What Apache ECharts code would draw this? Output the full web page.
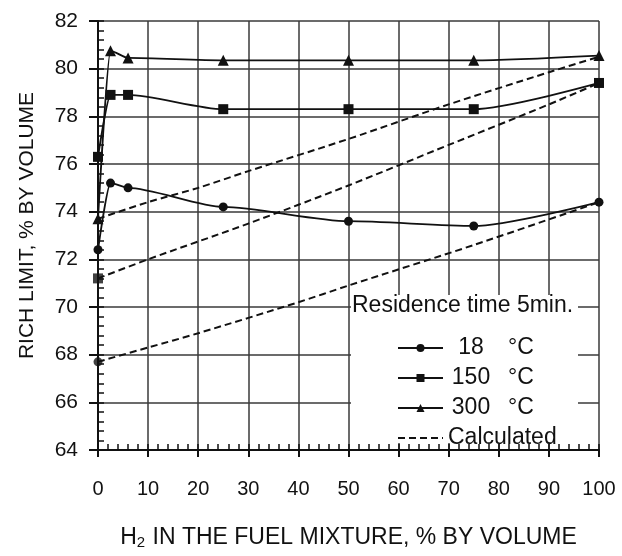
<!DOCTYPE html>
<html>
<head>
<meta charset="utf-8">
<script src="https://cdn.jsdelivr.net/npm/echarts@6/dist/echarts.min.js"></script>
<style>html,body{margin:0;padding:0;background:#fff;}#c{width:622px;height:556px;}</style>
</head>
<body>
<div id="c"></div>
<script>
// ---- data ----
const xExp = [0, 2.5, 6, 25, 50, 75, 100];
const y18 = [72.4, 75.2, 75.0, 74.2, 73.6, 73.4, 74.4];
const y150 = [76.3, 78.9, 78.9, 78.3, 78.3, 78.3, 79.4];
const y300 = [73.7, 80.75, 80.45, 80.35, 80.35, 80.35, 80.55];

const xCalc300 = [0, 10, 20, 30, 50, 70, 90, 100];
const yCalc300 = [73.7, 74.4, 75.0, 75.7, 77.05, 78.5, 79.85, 80.5];
const xCalc150 = [0, 10, 30, 50, 70, 90, 100];
const yCalc150 = [71.2, 72.0, 73.5, 75.1, 76.8, 78.5, 79.4];
const xCalc18 = [0, 10, 20, 40, 50, 75, 100];
const yCalc18 = [67.7, 68.3, 68.9, 70.2, 70.9, 72.6, 74.4];

// start points of the calculated curves, drawn with markers
const calcStart150 = [[0, 71.2]];
const calcStart18 = [[0, 67.7]];

const seriesNames = ['18 °C', '150 °C', '300 °C', 'Calculated'];
const xTicks = {min: 0, max: 100, step: 10};
const yTicks = {min: 64, max: 82, step: 2};

const FONT = "'Liberation Sans', Arial, sans-serif";
const INK = '#111';

function pairs(xs, ys) { return xs.map((x, i) => [x, ys[i]]); }

const chart = echarts.init(document.getElementById('c'), null, {renderer: 'canvas'});

const calcStyle = {color: INK, width: 2, type: [7, 4]};

const option = {
  backgroundColor: '#fff',
  animation: false,
  grid: {left: 98, top: 21, width: 501, height: 429, containLabel: false},
  xAxis: [{
    type: 'value', position: 'bottom',
    min: xTicks.min, max: xTicks.max, interval: xTicks.step,
    axisLine: {show: true, lineStyle: {color: INK, width: 2}},
    axisTick: {show: true, inside: false, length: 7, lineStyle: {color: INK, width: 2}},
    axisLabel: {color: INK, fontSize: 20, fontFamily: FONT, margin: 29},
    splitLine: {show: true, lineStyle: {color: '#3a3a3a', width: 1.5}},
    name: '{a|H}{s|2}{a| IN THE FUEL MIXTURE, % BY VOLUME}',
    nameLocation: 'middle', nameGap: 75,
    nameTextStyle: {color: INK, fontFamily: FONT, fontSize: 23,
      rich: {a: {fontSize: 23, fontFamily: FONT, color: INK},
             s: {fontSize: 15, fontFamily: FONT, color: INK, verticalAlign: 'bottom', padding: [10, 1, 0, 0]}}}
  }, {
    type: 'value', position: 'bottom',
    min: xTicks.min, max: xTicks.max, interval: 2,
    axisLine: {show: false},
    axisTick: {show: true, inside: true, length: 6, lineStyle: {color: INK, width: 1.5}},
    axisLabel: {show: false}, splitLine: {show: false}
  }],
  yAxis: [{
    type: 'value', position: 'left',
    min: yTicks.min, max: yTicks.max, interval: yTicks.step,
    axisLine: {show: true, lineStyle: {color: INK, width: 2}},
    axisTick: {show: true, inside: false, length: 9, lineStyle: {color: INK, width: 2}},
    axisLabel: {color: INK, fontSize: 21, fontFamily: FONT, margin: 20},
    splitLine: {show: true, lineStyle: {color: '#3a3a3a', width: 1.5}},
    name: 'RICH LIMIT, % BY VOLUME',
    nameLocation: 'middle', nameGap: 60, nameRotate: 90,
    nameTextStyle: {color: INK, fontFamily: FONT, fontSize: 21, padding: [0, 0, 0, 20]}
  }, {
    type: 'value', position: 'left',
    min: yTicks.min, max: yTicks.max, interval: 0.4,
    axisLine: {show: false},
    axisTick: {show: true, inside: true, length: 6, lineStyle: {color: INK, width: 1.5}},
    axisLabel: {show: false}, splitLine: {show: false}
  }],
  legend: {
    orient: 'vertical', left: 392, top: 331,
    itemWidth: 45, itemHeight: 10, itemGap: 6,
    data: [
      seriesNames[0], seriesNames[1], seriesNames[2],
      {name: seriesNames[3], itemStyle: {color: 'rgba(0,0,0,0)', borderColor: 'rgba(0,0,0,0)', borderWidth: 0}}
    ],
    textStyle: {color: INK, fontFamily: FONT, fontSize: 23, lineHeight: 24,
      rich: {n: {width: 46, align: 'right', fontSize: 23, fontFamily: FONT, color: INK},
             u: {fontSize: 23, fontFamily: FONT, color: INK, padding: [0, 0, 0, 14]}}},
    formatter: function (name) {
      if (name === 'Calculated') return name;
      const parts = name.split(' ');
      return '{n|' + parts[0] + '}{u|' + parts[1] + '}';
    }
  },
  graphic: [
    {type: 'rect', z: 1, shape: {x: 351, y: 295, width: 227, height: 148}, style: {fill: '#fff'}},
    {type: 'text', z: 5, left: 352, top: 294,
      style: {text: 'Residence time 5min.', fill: INK, font: '23px ' + FONT}}
  ],
  series: [
    {name: seriesNames[0], type: 'line', xAxisIndex: 0, yAxisIndex: 0, data: pairs(xExp, y18),
      smooth: 0.25, smoothMonotone: 'x', symbol: 'circle', symbolSize: 9,
      lineStyle: {color: INK, width: 1.8}, itemStyle: {color: INK}},
    {name: seriesNames[1], type: 'line', xAxisIndex: 0, yAxisIndex: 0, data: pairs(xExp, y150),
      smooth: 0.25, smoothMonotone: 'x', symbol: 'rect', symbolSize: 10,
      lineStyle: {color: INK, width: 1.8}, itemStyle: {color: INK}},
    {name: seriesNames[2], type: 'line', xAxisIndex: 0, yAxisIndex: 0, data: pairs(xExp, y300),
      smooth: 0.25, smoothMonotone: 'x', symbol: 'triangle', symbolSize: 11,
      lineStyle: {color: INK, width: 1.8}, itemStyle: {color: INK}},
    {name: seriesNames[3], type: 'line', xAxisIndex: 0, yAxisIndex: 0, data: pairs(xCalc300, yCalc300),
      smooth: 0.3, symbol: 'none', lineStyle: calcStyle, itemStyle: {color: INK}},
    {name: seriesNames[3], type: 'line', xAxisIndex: 0, yAxisIndex: 0, data: pairs(xCalc150, yCalc150),
      smooth: 0.3, symbol: 'none', lineStyle: calcStyle, itemStyle: {color: INK}},
    {name: seriesNames[3], type: 'line', xAxisIndex: 0, yAxisIndex: 0, data: pairs(xCalc18, yCalc18),
      smooth: 0.3, symbol: 'none', lineStyle: calcStyle, itemStyle: {color: INK}},
    {name: 'calc150 start', type: 'scatter', xAxisIndex: 0, yAxisIndex: 0, data: calcStart150,
      symbol: 'rect', symbolSize: 10, itemStyle: {color: INK}, z: 3},
    {name: 'calc18 start', type: 'scatter', xAxisIndex: 0, yAxisIndex: 0, data: calcStart18,
      symbol: 'circle', symbolSize: 9, itemStyle: {color: INK}, z: 3}
  ]
};
chart.setOption(option);
</script>
</body>
</html>
